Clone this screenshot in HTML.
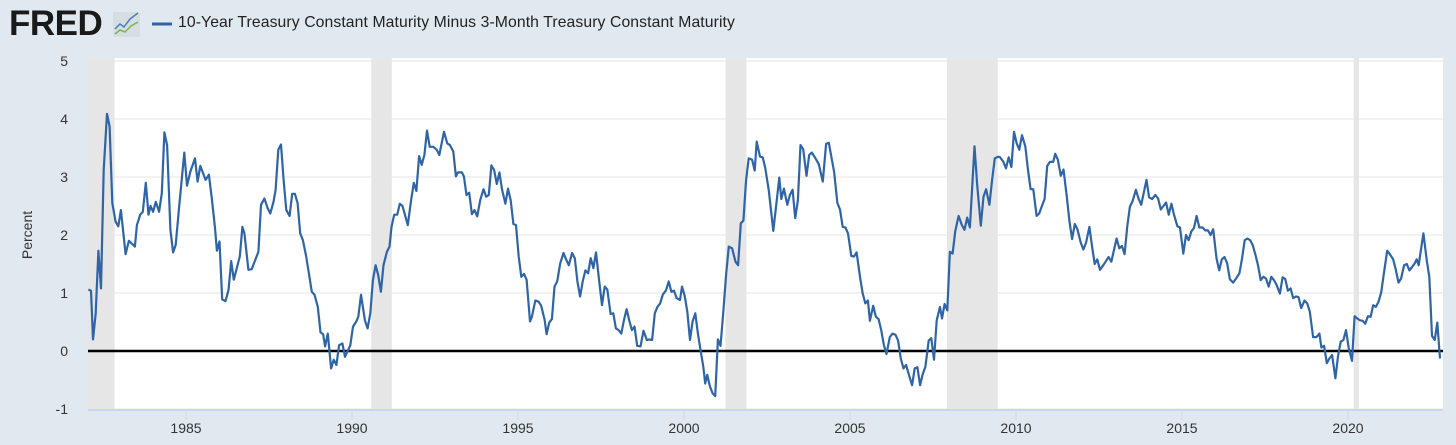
<!DOCTYPE html>
<html><head><meta charset="utf-8"><style>
body{margin:0;background:#e1e9f0;width:1456px;height:445px;overflow:hidden;font-family:"Liberation Sans",sans-serif;}
#hdr{position:absolute;left:0;top:0;width:1456px;height:50px;}
#logo{position:absolute;left:9px;top:6px;font-size:35px;line-height:35px;font-weight:bold;color:#1a1a1a;letter-spacing:-0.5px;}
#legtxt{position:absolute;left:178px;top:14px;font-size:16px;color:#222;letter-spacing:0.1px;white-space:nowrap;}
svg{position:absolute;left:0;top:0;}
</style></head><body>
<div id="hdr">
<div id="logo">FRED</div>
<svg width="1456" height="50" style="position:absolute;left:0;top:0">
<rect x="113" y="12" width="27" height="25" rx="2" fill="#d6dde3"/>
<polyline points="115,29 120,24 124,27 130,19 138,13" fill="none" stroke="#4a7fb5" stroke-width="1.5"/>
<polyline points="115,34 120,30 125,32 131,26 138,22" fill="none" stroke="#7ab648" stroke-width="1.5"/>
<line x1="152" y1="24" x2="172" y2="24" stroke="#2f65a7" stroke-width="3"/>
</svg>
<div id="legtxt">10-Year Treasury Constant Maturity Minus 3-Month Treasury Constant Maturity</div>
</div>
<svg id="chart" width="1456" height="445" style="top:0"></svg>
<script>
const dates=[1982.06,1982.14,1982.20,1982.28,1982.36,1982.44,1982.52,1982.62,1982.70,1982.78,1982.88,1982.96,1983.04,1983.18,1983.28,1983.46,1983.52,1983.62,1983.70,1983.79,1983.87,1983.93,1984.01,1984.09,1984.19,1984.27,1984.35,1984.43,1984.53,1984.61,1984.69,1984.79,1984.87,1984.95,1985.03,1985.13,1985.27,1985.35,1985.43,1985.59,1985.69,1985.77,1985.87,1985.93,1986.01,1986.09,1986.19,1986.28,1986.36,1986.44,1986.54,1986.62,1986.70,1986.76,1986.88,1986.98,1987.18,1987.26,1987.36,1987.46,1987.54,1987.64,1987.70,1987.78,1987.86,1987.94,1988.02,1988.12,1988.20,1988.28,1988.36,1988.44,1988.52,1988.62,1988.79,1988.87,1988.97,1989.05,1989.13,1989.19,1989.27,1989.37,1989.45,1989.53,1989.61,1989.71,1989.79,1989.95,1990.03,1990.13,1990.19,1990.27,1990.39,1990.47,1990.55,1990.63,1990.71,1990.79,1990.87,1990.95,1991.05,1991.13,1991.19,1991.27,1991.36,1991.44,1991.52,1991.68,1991.78,1991.86,1991.94,1992.02,1992.10,1992.18,1992.26,1992.34,1992.45,1992.55,1992.63,1992.77,1992.87,1992.95,1993.05,1993.13,1993.19,1993.31,1993.37,1993.45,1993.53,1993.61,1993.69,1993.77,1993.86,1993.96,1994.04,1994.12,1994.20,1994.28,1994.36,1994.44,1994.52,1994.62,1994.70,1994.78,1994.86,1994.94,1995.02,1995.10,1995.18,1995.26,1995.36,1995.42,1995.52,1995.62,1995.70,1995.80,1995.86,1995.94,1996.02,1996.10,1996.18,1996.27,1996.37,1996.45,1996.53,1996.63,1996.71,1996.79,1996.87,1996.95,1997.03,1997.11,1997.19,1997.27,1997.35,1997.43,1997.53,1997.61,1997.69,1997.79,1997.87,1997.95,1998.03,1998.11,1998.19,1998.27,1998.35,1998.43,1998.51,1998.59,1998.69,1998.78,1998.88,1998.96,1999.04,1999.12,1999.20,1999.28,1999.36,1999.46,1999.54,1999.62,1999.70,1999.78,1999.88,1999.94,2000.02,2000.10,2000.18,2000.26,2000.34,2000.42,2000.50,2000.58,2000.64,2000.70,2000.78,2000.86,2000.94,2001.02,2001.10,2001.18,2001.27,2001.35,2001.45,2001.55,2001.63,2001.71,2001.79,2001.87,2001.95,2002.05,2002.13,2002.19,2002.29,2002.37,2002.45,2002.55,2002.69,2002.87,2002.93,2003.01,2003.11,2003.19,2003.27,2003.35,2003.43,2003.51,2003.59,2003.69,2003.77,2003.85,2003.96,2004.06,2004.18,2004.28,2004.36,2004.52,2004.62,2004.70,2004.78,2004.86,2004.94,2005.04,2005.12,2005.20,2005.30,2005.38,2005.46,2005.54,2005.60,2005.70,2005.78,2005.86,2005.94,2006.02,2006.10,2006.20,2006.28,2006.37,2006.45,2006.53,2006.61,2006.69,2006.79,2006.87,2006.95,2007.03,2007.11,2007.19,2007.27,2007.37,2007.45,2007.53,2007.61,2007.71,2007.77,2007.85,2007.93,2008.01,2008.09,2008.17,2008.27,2008.37,2008.45,2008.53,2008.61,2008.75,2008.83,2008.94,2009.02,2009.10,2009.20,2009.28,2009.36,2009.46,2009.52,2009.62,2009.70,2009.78,2009.86,2009.94,2010.02,2010.10,2010.18,2010.28,2010.36,2010.44,2010.52,2010.62,2010.70,2010.78,2010.86,2010.94,2011.02,2011.12,2011.18,2011.26,2011.35,2011.43,2011.53,2011.61,2011.69,2011.77,2011.85,2011.95,2012.03,2012.11,2012.21,2012.29,2012.37,2012.45,2012.53,2012.63,2012.79,2012.87,2013.03,2013.11,2013.19,2013.27,2013.35,2013.43,2013.51,2013.61,2013.69,2013.77,2013.93,2014.01,2014.10,2014.20,2014.28,2014.36,2014.52,2014.60,2014.68,2014.76,2014.86,2014.94,2015.04,2015.12,2015.20,2015.28,2015.36,2015.44,2015.52,2015.62,2015.70,2015.78,2015.86,2015.94,2016.04,2016.12,2016.20,2016.28,2016.36,2016.44,2016.54,2016.63,2016.73,2016.81,2016.89,2016.97,2017.05,2017.13,2017.21,2017.29,2017.37,2017.45,2017.53,2017.61,2017.69,2017.77,2017.85,2017.95,2018.03,2018.11,2018.19,2018.27,2018.35,2018.43,2018.51,2018.59,2018.69,2018.77,2018.85,2018.95,2019.05,2019.14,2019.20,2019.28,2019.36,2019.44,2019.52,2019.62,2019.70,2019.78,2019.86,2019.94,2020.02,2020.12,2020.20,2020.28,2020.36,2020.44,2020.52,2020.60,2020.68,2020.76,2020.84,2020.92,2021.00,2021.08,2021.18,2021.26,2021.36,2021.44,2021.52,2021.60,2021.69,2021.77,2021.85,2021.93,2022.01,2022.07,2022.13,2022.21,2022.27,2022.37,2022.45,2022.53,2022.61,2022.69,2022.77];
const values=[1.06,1.04,0.20,0.65,1.73,1.08,3.12,4.09,3.87,2.55,2.23,2.15,2.43,1.67,1.90,1.80,2.17,2.35,2.40,2.90,2.35,2.50,2.40,2.57,2.40,2.72,3.77,3.55,2.09,1.70,1.83,2.46,2.95,3.42,2.85,3.09,3.32,2.92,3.19,2.95,3.04,2.66,2.14,1.73,1.89,0.89,0.86,1.05,1.55,1.23,1.45,1.63,2.14,2.03,1.40,1.41,1.71,2.52,2.63,2.46,2.37,2.58,2.78,3.47,3.56,2.95,2.43,2.33,2.71,2.71,2.55,2.03,1.91,1.63,1.02,0.97,0.76,0.32,0.29,0.08,0.30,-0.30,-0.15,-0.24,0.10,0.13,-0.10,0.10,0.42,0.51,0.59,0.97,0.53,0.39,0.65,1.22,1.48,1.31,1.02,1.48,1.71,1.80,2.14,2.35,2.35,2.54,2.50,2.17,2.60,2.90,2.76,3.36,3.21,3.38,3.80,3.52,3.52,3.47,3.38,3.78,3.58,3.55,3.44,3.01,3.08,3.08,3.01,2.69,2.73,2.36,2.43,2.32,2.60,2.79,2.66,2.69,3.20,3.12,2.88,3.08,2.78,2.54,2.80,2.60,2.19,2.17,1.63,1.28,1.33,1.23,0.51,0.59,0.87,0.85,0.78,0.54,0.29,0.49,0.55,1.11,1.20,1.51,1.69,1.58,1.48,1.69,1.60,1.20,0.94,1.20,1.39,1.34,1.60,1.43,1.70,1.28,0.79,1.11,1.06,0.64,0.65,0.39,0.36,0.30,0.53,0.72,0.53,0.36,0.42,0.09,0.08,0.35,0.19,0.20,0.19,0.65,0.76,0.82,0.97,1.05,1.20,1.02,1.04,0.91,0.88,1.11,0.95,0.68,0.19,0.51,0.65,0.30,0.01,-0.27,-0.56,-0.41,-0.61,-0.73,-0.78,0.20,0.09,0.65,1.34,1.80,1.77,1.54,1.48,2.20,2.25,2.95,3.32,3.30,3.11,3.61,3.35,3.34,3.15,2.78,2.07,2.99,2.62,2.80,2.52,2.69,2.78,2.29,2.60,3.55,3.48,3.02,3.38,3.42,3.32,3.22,2.92,3.57,3.59,3.09,2.55,2.44,2.14,2.13,2.03,1.64,1.63,1.70,1.28,1.00,0.82,0.87,0.52,0.78,0.59,0.55,0.36,0.10,-0.05,0.24,0.30,0.28,0.18,-0.13,-0.30,-0.24,-0.44,-0.59,-0.30,-0.28,-0.59,-0.40,-0.27,0.18,0.22,-0.15,0.53,0.76,0.56,0.81,0.70,1.71,1.68,2.06,2.33,2.17,2.09,2.30,2.13,3.53,2.86,2.16,2.66,2.79,2.52,2.95,3.32,3.35,3.34,3.26,3.15,3.34,3.17,3.78,3.58,3.47,3.72,3.53,3.12,2.79,2.79,2.33,2.37,2.50,2.62,3.19,3.26,3.26,3.40,3.30,3.02,3.13,2.66,2.23,1.93,2.19,2.10,1.87,1.75,1.87,2.14,1.81,1.50,1.58,1.40,1.48,1.62,1.54,1.94,1.77,1.81,1.67,2.14,2.49,2.58,2.78,2.63,2.52,2.95,2.65,2.62,2.69,2.63,2.44,2.56,2.35,2.54,2.35,2.15,2.13,1.68,2.00,1.91,2.06,2.12,2.33,2.13,2.13,2.08,2.08,2.00,2.10,1.60,1.39,1.58,1.62,1.51,1.24,1.18,1.25,1.34,1.60,1.91,1.94,1.91,1.83,1.66,1.48,1.22,1.28,1.25,1.11,1.28,1.22,1.14,0.99,1.27,1.24,1.04,1.08,0.91,0.94,0.93,0.74,0.87,0.82,0.68,0.24,0.24,0.30,0.06,0.09,-0.21,-0.13,-0.07,-0.47,-0.09,0.16,0.19,0.36,0.05,-0.17,0.60,0.56,0.53,0.52,0.47,0.60,0.59,0.79,0.76,0.85,1.01,1.34,1.73,1.67,1.58,1.40,1.18,1.25,1.48,1.50,1.39,1.45,1.51,1.58,1.48,1.80,2.03,1.57,1.28,0.26,0.19,0.49,-0.13];
const recStart=[1981.5,1990.58,2001.25,2007.92,2020.17];
const recEnd=[1982.85,1991.2,2001.88,2009.45,2020.33];
const yTicks=[-1,0,1,2,3,4,5];
const xTicks=[1985,1990,1995,2000,2005,2010,2015,2020];
const NS='http://www.w3.org/2000/svg';
const svg=document.getElementById('chart');
const L=88,R=1443,T=58,B=409;
function xs(yr){return 186+(yr-1985)*33.2;}
function ys(v){return 351-v*58;}
function mk(tag,attrs){const e=document.createElementNS(NS,tag);for(const k in attrs)e.setAttribute(k,attrs[k]);svg.appendChild(e);return e;}
let e=mk('rect',{x:L,y:T,width:R-L,height:B-T,fill:'#fff'});


for(let i=0;i<recStart.length;i++){
  const x0=Math.max(L,xs(recStart[i])),x1=Math.min(R,xs(recEnd[i]));
  const r=mk('rect',{x:x0,y:T,width:x1-x0,height:B-T,fill:'#e6e6e6'});
  
  
}
yTicks.forEach(t=>{
  const g=mk('line',{x1:L,x2:R,y1:ys(t),y2:ys(t),stroke:'#e6e6e6','stroke-width':1});
  
  
  const tx=mk('text',{x:68,y:ys(t)+5,'text-anchor':'end','font-size':14,fill:'#333','font-family':'Liberation Sans, sans-serif'});
  tx.textContent=t;
  
  
});
let ax=mk('line',{x1:L,x2:R,y1:B+1,y2:B+1,stroke:'#ccd6eb','stroke-width':2});


xTicks.forEach(t=>{
  const tk=mk('line',{x1:xs(t),x2:xs(t),y1:B+1,y2:B+11,stroke:'#ccd6eb','stroke-width':1});
  
  
  const tx=mk('text',{x:xs(t),y:433,'text-anchor':'middle','font-size':14,fill:'#333','font-family':'Liberation Sans, sans-serif'});
  tx.textContent=t;
  
  
});
let yt=mk('text',{x:0,y:0,transform:'translate(32,235) rotate(-90)','text-anchor':'middle','font-size':14,fill:'#333','font-family':'Liberation Sans, sans-serif'});
yt.textContent='Percent';


let zl=mk('line',{x1:L,x2:R,y1:ys(0),y2:ys(0),stroke:'#000','stroke-width':2.5});


const pts=dates.map((d,i)=>xs(d).toFixed(1)+','+ys(values[i]).toFixed(1)).join(' ');
let ln=mk('polyline',{points:pts,fill:'none',stroke:'#2f65a7','stroke-width':2.2,'stroke-linejoin':'round'});


const lt=document.getElementById('legtxt');
const w=lt.getBoundingClientRect().width;
if(w>0){lt.style.transform='scaleX('+(557/w)+')';lt.style.transformOrigin='0 0';}
</script>
</body></html>
